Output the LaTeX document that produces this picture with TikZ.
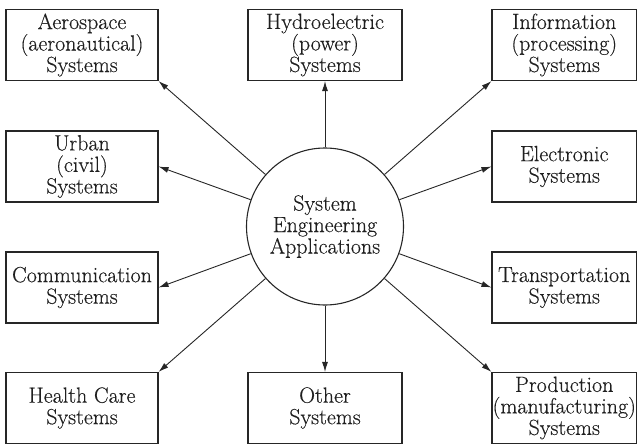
\documentclass[tikz,border=0pt]{standalone}
\usepackage{fontspec}
\setmainfont{Latin Modern Roman}[FakeBold=0.35]
\usetikzlibrary{arrows.meta}
\begin{document}
\begin{tikzpicture}[x=1pt,y=-1pt,
  txt/.style={font=\fontsize{22}{21.5}\selectfont,text=black!88,align=center},
  box/.style={txt,draw=black!85,line width=1.1pt,minimum height=71pt,inner sep=0pt},
  lbox/.style={box,minimum width=152pt},
  cbox/.style={box,minimum width=154pt},
  rbox/.style={box,minimum width=144.5pt},
  hub/.style={txt,draw=black!85,line width=1.1pt,circle,minimum size=157pt,inner sep=0pt},
  link/.style={draw=black!85,line width=0.9pt,-{Latex[length=10pt,width=6pt]}}]
\useasboundingbox (0,0) rectangle (637,444);
\node[hub] (c) at (325,226.5) {System\\Engineering\\Applications};
\node[lbox] (aero) at (82,45) {Aerospace\\(aeronautical)\\Systems};
\node[cbox] (hydro) at (325,45) {Hydroelectric\\(power)\\Systems};
\node[rbox] (info) at (564.25,45) {Information\\(processing)\\Systems};
\node[lbox] (urban) at (82,166.5) {Urban\\(civil)\\Systems};
\node[rbox] (elec) at (564.25,166.5) {Electronic\\Systems};
\node[lbox] (comm) at (82,287.5) {Communication\\Systems};
\node[rbox] (trans) at (564.25,287.5) {Transportation\\Systems};
\node[lbox] (health) at (82,408) {Health Care\\Systems};
\node[cbox] (other) at (325,408) {Other\\Systems};
\node[rbox] (prod) at (564.25,408) {Production\\(manufacturing)\\Systems};
\draw[link] (c) -- (aero.south east);
\draw[link] (c) -- (hydro.south);
\draw[link] (c) -- (info.south west);
\draw[link] (c) -- (urban.east);
\draw[link] (c) -- (elec.west);
\draw[link] (c) -- (comm.east);
\draw[link] (c) -- (trans.west);
\draw[link] (c) -- (health.north east);
\draw[link] (c) -- (other.north);
\draw[link] (c) -- (prod.north west);
\end{tikzpicture}
\end{document}
